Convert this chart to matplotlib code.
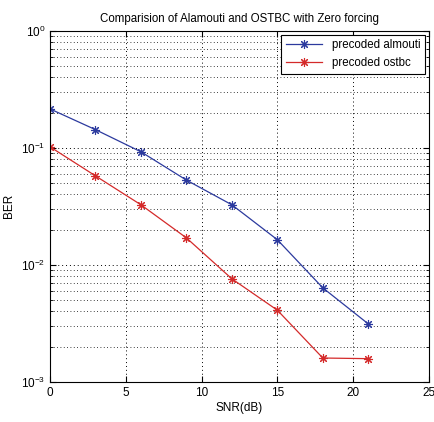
import matplotlib
matplotlib.use("Agg")
import matplotlib.pyplot as plt
from matplotlib.ticker import LogLocator, NullFormatter

plt.rcParams['font.family'] = ['Liberation Sans', 'DejaVu Sans']
plt.rcParams['font.size'] = 8.5

# data
snr = [0, 3, 6, 9, 12, 15, 18, 21]
ber_almouti = [0.215, 0.143, 0.0925, 0.053, 0.0326, 0.0164, 0.00636, 0.00313]
ber_ostbc = [0.102, 0.0576, 0.0326, 0.017, 0.0076, 0.0041, 0.0016, 0.00158]

fig = plt.figure(figsize=(4.35, 4.22), dpi=100)
ax = fig.add_axes([0.115, 0.095, 0.871, 0.832])

# MATLAB-style asterisk marker
star = (8, 2, 0)
ax.semilogy(snr, ber_almouti, color='#2c3a9e', marker=star, markersize=6.5,
            markeredgewidth=0.8, linewidth=0.9, label='precoded almouti')
ax.semilogy(snr, ber_ostbc, color='#d42a2a', marker=star, markersize=6.5,
            markeredgewidth=0.8, linewidth=0.9, label='precoded ostbc')

ax.set_xlim(0, 25)
ax.set_ylim(1e-3, 1)
ax.set_xticks([0, 5, 10, 15, 20, 25])
ax.yaxis.set_major_locator(LogLocator(base=10, numticks=10))
ax.yaxis.set_minor_locator(LogLocator(base=10, subs=range(2, 10), numticks=10))
ax.yaxis.set_minor_formatter(NullFormatter())

ax.grid(True, which='major', linestyle=(0, (1, 3)), color='black', linewidth=0.7)
ax.grid(True, which='minor', axis='y', linestyle=(0, (1, 3)), color='black', linewidth=0.6)
ax.tick_params(which='both', direction='in', top=True, right=True)
ax.tick_params(which='major', length=4)
ax.tick_params(which='minor', length=2)

ax.set_xlabel('SNR(dB)', labelpad=2)
ax.set_ylabel('BER')
ax.set_title('Comparision of Alamouti and OSTBC with Zero forcing', fontsize=8.3)

leg = ax.legend(loc='upper right', fancybox=False, edgecolor='black',
                framealpha=1, borderaxespad=0.35, handlelength=3.2,
                fontsize=8.3)
leg.get_frame().set_linewidth(0.8)

fig.savefig('out.png', dpi=100)
